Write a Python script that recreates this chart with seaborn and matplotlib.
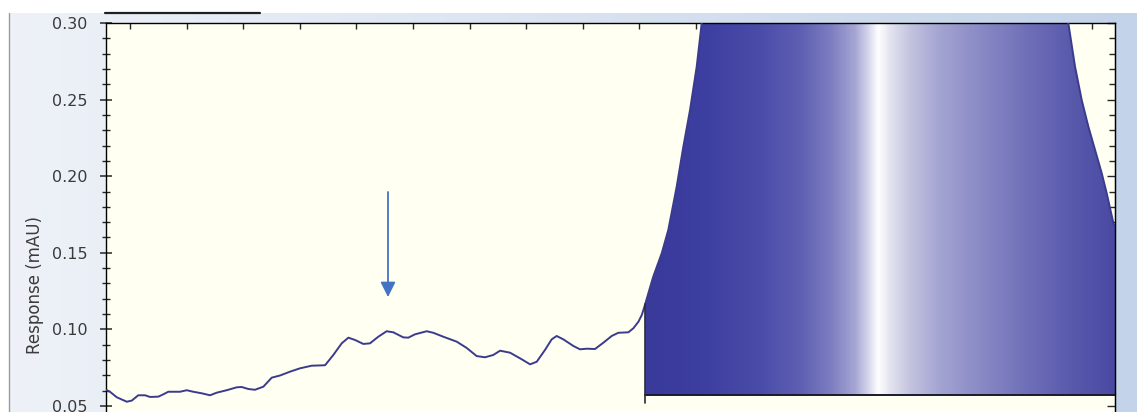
import numpy as np
import pandas as pd
import matplotlib
matplotlib.use("Agg")
import matplotlib.pyplot as plt
from matplotlib.colors import LinearSegmentedColormap, to_rgb
from matplotlib.lines import Line2D
from matplotlib.ticker import MultipleLocator
import seaborn as sns

# ---- chromatogram trace (time in min, response in mAU) ----
time_min = [3.794, 3.823, 3.883, 3.971, 4.015, 4.073, 4.133, 4.177, 4.250, 4.294,
            4.338, 4.442, 4.501, 4.559, 4.633, 4.707, 4.766, 4.854, 4.943, 4.987,
            5.045, 5.104, 5.178, 5.252, 5.325, 5.413, 5.502, 5.605, 5.723, 5.796,
            5.870, 5.929, 5.988, 6.061, 6.120, 6.193, 6.267, 6.326, 6.414, 6.458,
            6.518, 6.621, 6.679, 6.768, 6.886, 6.974, 7.062, 7.136, 7.209, 7.269,
            7.357, 7.460, 7.534, 7.593, 7.666, 7.725, 7.769, 7.828, 7.916, 7.975,
            8.034, 8.108, 8.181, 8.255, 8.314, 8.402, 8.446, 8.491, 8.521, 8.544,
            8.622, 8.697, 8.755, 8.829, 8.888, 8.947, 9.006, 9.050, 9.124, 10.608,
            12.216, 12.289, 12.348, 12.407, 12.466, 12.525, 12.584, 12.628, 12.687, 12.746]
response = [0.0604, 0.0593, 0.0557, 0.0528, 0.0535, 0.0570, 0.0570, 0.0559, 0.0561, 0.0576,
            0.0593, 0.0593, 0.0603, 0.0593, 0.0583, 0.0570, 0.0587, 0.0603, 0.0622, 0.0624,
            0.0611, 0.0606, 0.0626, 0.0685, 0.0699, 0.0724, 0.0746, 0.0763, 0.0766, 0.0833,
            0.0909, 0.0946, 0.0931, 0.0905, 0.0909, 0.0952, 0.0988, 0.0981, 0.0948, 0.0946,
            0.0968, 0.0988, 0.0978, 0.0952, 0.0920, 0.0879, 0.0826, 0.0818, 0.0833, 0.0861,
            0.0848, 0.0805, 0.0772, 0.0789, 0.0866, 0.0935, 0.0957, 0.0935, 0.0892, 0.0870,
            0.0874, 0.0872, 0.0913, 0.0957, 0.0978, 0.0981, 0.1007, 0.1050, 0.1094, 0.1148,
            0.1344, 0.1497, 0.1649, 0.1931, 0.2193, 0.2432, 0.2715, 0.2998, 0.3600, 0.9500,
            0.3400, 0.2998, 0.2715, 0.2497, 0.2323, 0.2171, 0.2019, 0.1888, 0.1693, 0.1600]

# integrated peak: start time, baseline level
peak_start = 8.55
peak_baseline = 0.0572
drop_bottom = 0.052

# marker arrow (time, from, to)
arrow_time = 6.279
arrow_from = 0.1897
arrow_to = 0.1211

# axis settings
y_ticks = [0.05, 0.10, 0.15, 0.20, 0.25, 0.30]
y_labels = ["0.05", "0.10", "0.15", "0.20", "0.25", "0.30"]
x_limits = (3.788, 12.701)
y_limits = (0.0, 0.30)

sns.set_style("ticks")
plt.rcParams["font.family"] = ["DejaVu Sans"]

W, H = 1137, 412
fig = plt.figure(figsize=(W / 100, H / 100), dpi=100, facecolor="white")

# ---- window background panel ----
bg = fig.add_axes([9 / W, 0, 1 - 9 / W, (H - 13) / H], zorder=-5)
bg.set_axis_off()
c_left = np.array(to_rgb("#eef2f8"))
c_right = np.array(to_rgb("#c3d3e9"))
gx = np.linspace(0, 1, 256)[None, :, None]
grad = c_left * (1 - gx) + c_right * gx
bg.imshow(grad, aspect="auto", extent=[0, 1, 0, 1])
bg.set_xlim(0, 1)
bg.set_ylim(0, 1)
fig.add_artist(Line2D([9 / W, 9 / W], [0, (H - 13) / H], color="#9a9a9a", lw=1))
fig.add_artist(Line2D([105 / W, 260 / W], [1 - 13 / H, 1 - 13 / H], color="#202020", lw=1.6))

# ---- plot area ----
ax_top_px, ax_bot_px = 23, 23 + 0.30 * 1532
ax = fig.add_axes([106 / W, 1 - ax_bot_px / H, (1115 - 106) / W, (ax_bot_px - ax_top_px) / H])
ax.set_facecolor("#fffff2")

df = pd.DataFrame({"time": time_min, "response": response})
t = np.array(time_min)
r = np.array(response)

# gradient-filled peak area
mask = t >= peak_start
t_peak = np.concatenate([[peak_start], t[mask]])
r_peak = np.concatenate([[np.interp(peak_start, t, r)], r[mask]])
poly = ax.fill_between(t_peak, peak_baseline, r_peak, color="none", lw=0)
stops_px = [645, 700, 760, 800, 830, 855, 870, 878, 890, 910, 940, 980, 1030, 1080, 1115]
stops_col = ["#393a9a", "#3c3ea0", "#4b4ca8", "#5e5fb2", "#7c7cc0", "#a5a5d4", "#dcdcee",
             "#ffffff", "#e4e4f0", "#c4c4e0", "#a4a4d2", "#8a8ac6", "#6e6eb8", "#5656aa", "#4a4aa4"]
pos = [(p - 645) / (1115 - 645) for p in stops_px]
cmap = LinearSegmentedColormap.from_list("peakfill", list(zip(pos, stops_col)))
img = ax.imshow(np.linspace(0, 1, 512)[None, :], cmap=cmap, aspect="auto",
                extent=[peak_start, x_limits[1], peak_baseline, 1.0], zorder=1,
                interpolation="bilinear")
img.set_clip_path(poly.get_paths()[0], transform=ax.transData)

# trace
sns.lineplot(data=df, x="time", y="response", ax=ax, color="#3b3b8e", lw=1.4, zorder=3,
             estimator=None, sort=False)

# baseline and drop line of the integrated peak
ax.plot([peak_start, x_limits[1]], [peak_baseline, peak_baseline], color="#1a1a2a", lw=1.4, zorder=4)
ax.plot([peak_start, peak_start], [drop_bottom, np.interp(peak_start, t, r)], color="#2a2a3a",
        lw=1.2, zorder=4)

# arrow marker
ax.annotate("", xy=(arrow_time, arrow_to), xytext=(arrow_time, arrow_from),
            arrowprops=dict(arrowstyle="-|>,head_length=0.9,head_width=0.45",
                            color="#4472c4", lw=1.3, shrinkA=0, shrinkB=0), zorder=5)

ax.set_xlim(*x_limits)
ax.set_ylim(*y_limits)
ax.set_xlabel("")
ax.set_ylabel("")

for s in ax.spines.values():
    s.set_color("black")
    s.set_linewidth(1.0)

ax.yaxis.set_major_locator(MultipleLocator(0.05))
ax.yaxis.set_minor_locator(MultipleLocator(0.01))
ax.set_yticks(y_ticks)
ax.set_yticklabels(y_labels)
ax.tick_params(axis="y", which="major", direction="inout", length=9, width=1.1,
               labelsize=11.5, labelcolor="#3a3a3a", pad=9, left=True, right=False)
ax.tick_params(axis="y", which="minor", direction="inout", length=6, width=1.0,
               left=True, right=False)

ax.xaxis.set_major_locator(MultipleLocator(0.5))
ax.tick_params(axis="x", which="major", direction="in", length=4, width=1.0,
               top=True, bottom=False, labeltop=False, labelbottom=False)

sec = ax.secondary_yaxis("right")
sec.yaxis.set_major_locator(MultipleLocator(0.05))
sec.yaxis.set_minor_locator(MultipleLocator(0.01))
sec.tick_params(axis="y", which="major", direction="in", length=6, width=1.0, labelright=False)
sec.tick_params(axis="y", which="minor", direction="in", length=4, width=1.0)
sec.spines["right"].set_color("black")

fig.text(35 / W, 1 - 285 / H, "Response (mAU)", rotation=90, ha="center", va="center",
         fontsize=12, color="#3a3a3a")

fig.savefig("out.png", dpi=100, facecolor="white")
